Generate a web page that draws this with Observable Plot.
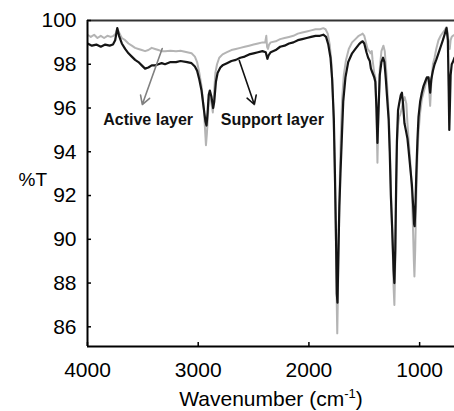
<!DOCTYPE html>
<html><head><meta charset="utf-8">
<script src="https://cdn.jsdelivr.net/npm/d3@7"></script>
<script src="https://cdn.jsdelivr.net/npm/@observablehq/plot@0.6"></script>
<style>body{margin:0;background:#fff}</style>
</head><body><div id="chart"></div>
<script>
// Support layer (black)
const supportWN = [4000,3960,3920,3880,3840,3800,3770,3750,3731,3715,3690,3660,3630,3600,3570,3540,3510,3480,3450,3420,3390,3360,3330,3300,3250,3200,3160,3100,3060,3030,3010,2990,2970,2950,2935,2925,2915,2905,2895,2880,2865,2855,2840,2825,2800,2780,2740,2700,2660,2620,2580,2540,2500,2460,2420,2390,2375,2365,2345,2300,2260,2220,2180,2140,2100,2060,2020,1980,1940,1900,1870,1845,1825,1805,1790,1775,1765,1755,1748,1742,1735,1725,1715,1700,1690,1670,1645,1610,1580,1550,1530,1515,1500,1480,1465,1450,1440,1425,1410,1400,1390,1381,1372,1360,1345,1330,1318,1305,1290,1280,1270,1260,1248,1235,1228,1220,1212,1205,1195,1185,1170,1160,1150,1137,1125,1110,1100,1085,1070,1058,1050,1045,1038,1030,1020,1010,995,980,965,950,935,920,905,895,880,865,850,830,810,790,775,757,745,738,732,727,720,710,700,685,660];
const supportT = [98.95,98.85,98.9,98.8,98.9,98.85,98.9,99.1,99.65,99.3,98.95,98.7,98.5,98.35,98.2,98.1,97.95,97.8,97.85,97.95,97.95,98.0,98.05,98.0,98.1,98.1,98.15,98.1,98.05,97.9,97.7,97.3,96.8,96.0,95.4,95.2,95.8,96.6,96.8,96.5,96.0,96.3,97.2,97.6,97.85,97.95,98.05,98.15,98.2,98.3,98.35,98.45,98.5,98.55,98.6,98.55,98.25,98.4,98.55,98.65,98.8,98.85,98.95,99.0,99.1,99.15,99.2,99.25,99.3,99.3,99.35,99.25,98.9,98.3,97.3,95.5,93.0,90.0,87.5,87.1,89.0,91.5,93.0,95.0,96.3,97.4,98.1,98.5,98.7,98.9,99.0,99.05,98.95,98.55,98.3,98.15,97.8,97.6,97.4,97.2,96.0,94.4,95.8,97.5,98.1,98.3,98.1,97.3,96.2,95.5,94.0,92.0,90.5,88.6,88.0,89.5,92.5,94.5,95.9,96.2,96.6,96.7,96.2,95.3,95.0,94.6,94.1,93.3,92.5,91.5,90.7,90.6,91.5,93.0,94.5,95.6,96.3,96.7,97.0,97.2,97.4,97.4,96.7,97.3,97.7,98.0,98.2,98.5,98.8,99.1,99.35,99.65,99.1,97.0,95.0,96.0,97.5,98.0,98.1,98.3,98.4];
// Active layer (grey)
const activeWN = [4000,3970,3940,3910,3880,3850,3820,3790,3765,3745,3731,3715,3690,3660,3630,3600,3570,3540,3510,3480,3450,3420,3390,3360,3330,3300,3250,3200,3160,3100,3060,3030,3010,2990,2970,2950,2938,2930,2922,2912,2905,2895,2880,2868,2858,2845,2830,2810,2780,2740,2700,2660,2620,2580,2540,2500,2460,2420,2395,2385,2378,2370,2360,2345,2300,2260,2220,2180,2140,2100,2060,2020,1980,1940,1900,1870,1850,1830,1812,1795,1780,1768,1758,1750,1744,1738,1730,1720,1710,1700,1685,1665,1640,1610,1580,1550,1530,1515,1500,1485,1470,1455,1444,1432,1425,1410,1400,1390,1381,1372,1360,1345,1327,1315,1300,1285,1275,1265,1255,1243,1235,1228,1220,1212,1205,1195,1185,1175,1160,1150,1135,1120,1110,1100,1085,1070,1060,1052,1047,1040,1030,1020,1010,995,980,965,950,935,920,905,895,880,865,850,830,810,790,775,757,745,735,728,720,710,700,685,660];
const activeT = [99.35,99.25,99.35,99.2,99.3,99.2,99.3,99.25,99.3,99.4,99.65,99.45,99.2,99.1,98.95,98.85,98.75,98.7,98.65,98.6,98.65,98.75,98.7,98.65,98.6,98.6,98.62,98.6,98.62,98.55,98.5,98.35,98.1,97.6,97.0,96.0,95.0,94.3,94.8,95.6,96.4,96.6,96.2,95.8,96.6,97.6,98.0,98.3,98.45,98.55,98.65,98.7,98.75,98.8,98.85,98.9,98.95,99.0,99.0,99.3,98.8,98.7,98.9,99.0,99.05,99.15,99.2,99.25,99.3,99.4,99.45,99.5,99.55,99.6,99.6,99.65,99.6,99.4,98.9,98.0,96.0,93.5,90.5,87.5,85.7,87.5,90.5,93.0,95.0,96.4,97.5,98.2,98.7,99.0,99.15,99.3,99.35,99.4,99.3,99.0,98.7,98.6,98.5,98.6,98.2,97.6,97.4,95.8,93.5,95.8,97.8,98.6,98.85,98.6,97.6,96.3,95.2,93.5,91.5,89.5,87.8,87.0,89.0,92.0,94.3,95.2,95.6,95.7,96.0,96.3,96.5,96.2,95.3,94.6,93.6,92.2,90.5,89.0,88.3,89.5,92.0,93.8,94.9,95.8,96.4,96.7,97.0,97.3,97.4,96.1,97.1,98.0,98.3,98.7,99.1,99.3,99.45,99.55,99.7,99.4,98.8,98.7,99.1,99.25,99.3,99.35,99.35];

const xTicks = [4000, 3000, 2000, 1000];
const yTicks = [86, 88, 90, 92, 94, 96, 98, 100];
const xDomain = [4000, 685];
const yDomain = [85.1, 100];

const labelNames = ["Active layer", "Support layer"];
const labelWN = [3452, 2330];
const labelT = [95.45, 95.45];
const arrowWN1 = [3325, 2629];
const arrowT1 = [98.72, 98.17];
const arrowWN2 = [3505, 2493];
const arrowT2 = [96.16, 96.16];
const arrowColors = ["#808080", "#111111"];

const support = supportWN.map((w, i) => ({wn: w, t: supportT[i]}));
const active = activeWN.map((w, i) => ({wn: w, t: activeT[i]}));
const labels = labelNames.map((s, i) => ({s, wn: labelWN[i], t: labelT[i]}));
const arrows = arrowWN1.map((w, i) => ({x1: w, y1: arrowT1[i], x2: arrowWN2[i], y2: arrowT2[i], c: arrowColors[i]}));

const plot = Plot.plot({
  width: 454, height: 411,
  marginLeft: 87, marginRight: 0, marginTop: 20, marginBottom: 65,
  style: {fontFamily: "'Liberation Sans', Arial, sans-serif", fontSize: "21px", color: "#000", background: "#fff"},
  x: {domain: xDomain, label: null},
  y: {domain: yDomain, label: null},
  marks: [
    Plot.line(active, {x: "wn", y: "t", stroke: "#b4b4b4", strokeWidth: 2, clip: true}),
    Plot.line(support, {x: "wn", y: "t", stroke: "#151515", strokeWidth: 2.2, clip: true}),
    Plot.ruleX([xDomain[0]], {stroke: "#000", strokeWidth: 2}),
    Plot.ruleY([yDomain[0]], {stroke: "#000", strokeWidth: 2}),
    Plot.ruleY([yDomain[1]], {stroke: "#333", strokeWidth: 2}),
    Plot.axisX({ticks: xTicks, tickSize: -4, tickPadding: 20, tickFormat: d => String(d), label: null, strokeWidth: 1.5}),
    Plot.axisY({ticks: yTicks, tickSize: -4, tickPadding: 15, tickFormat: d => String(d), label: null, strokeWidth: 1.5}),
    Plot.arrow(arrows, {x1: "x1", y1: "y1", x2: "x2", y2: "y2", stroke: "c", strokeWidth: 1.6, headLength: 9}),
    Plot.text(labels, {x: "wn", y: "t", text: "s", fontWeight: "bold", fontSize: 16, fill: "#111"}),
    Plot.text(["%T"], {frameAnchor: "left", dx: -69, dy: -4, textAnchor: "start", fontSize: 19}),
    Plot.text(["Wavenumber (cm-1)"], {frameAnchor: "bottom", dy: 59, fontSize: 21, className: "xlabel"})
  ]
});
document.getElementById("chart").appendChild(plot);
const xl = plot.querySelector(".xlabel text");
if (xl) {
  xl.textContent = "";
  const ns = "http://www.w3.org/2000/svg";
  const a = document.createElementNS(ns, "tspan"); a.textContent = "Wavenumber (cm";
  const b = document.createElementNS(ns, "tspan"); b.textContent = "-1"; b.setAttribute("dy", "-8"); b.setAttribute("font-size", "13");
  const c = document.createElementNS(ns, "tspan"); c.textContent = ")"; c.setAttribute("dy", "8");
  xl.append(a, b, c);
}
</script></body></html>
